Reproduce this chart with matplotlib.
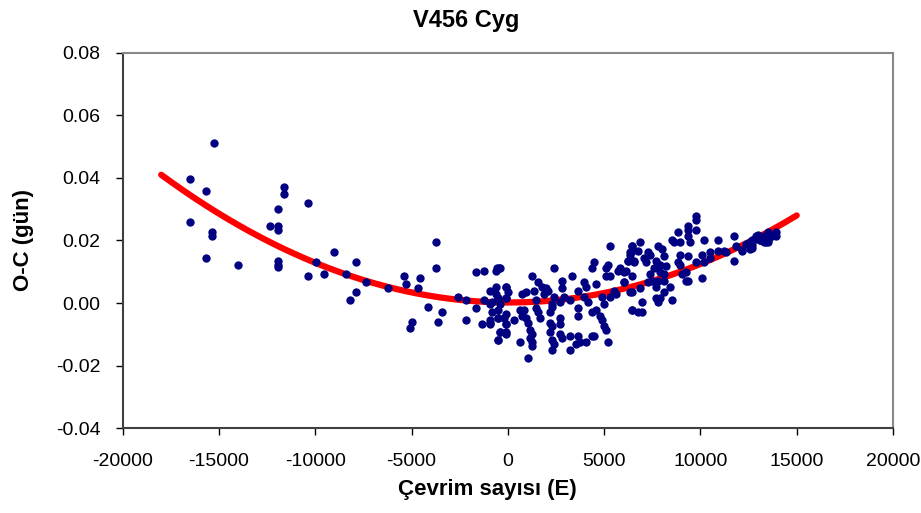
import numpy as np
import matplotlib
matplotlib.use('Agg')
import matplotlib.pyplot as plt

plt.rcParams['font.family'] = ['Liberation Sans', 'DejaVu Sans']
plt.rcParams['axes.unicode_minus'] = False

# observed O-C minima (cycle, days)
cycles = [
    -15260, -16520, -15670, -16520, -15360, -15360, -15670, -14030, -11640, -11640,
    -11940, -10380, -12350, -11940, -11940, -11940, -11940, -11940, -10380, -9960,
    -9540, -9030,
    -7890, -8410, -7370, -7890, -8200, -6230, -5400, -5300, -4570, -4680,
    -3750, -3750, -4160, -3440, -4990, -5090, -3640, -2600, -2190, -1660,
    -2190, -1660, -1240, -620, -410, -1350, -930, -930, -930, -1240,
    -620, -510, -830, -410, -510, -510, -410, -510, -100, -100,
    -100, -100, -100,
    5300, 6440, 6340, 6550, 6240, -550, -450, 2390, 1260, 3330,
    4470, 4370, 5090, 5200, 5090, 5300, 5720, 6130, 6030, 6440, 2810,
    1560, 1770, 1980, 2080, 1870, 1360, 940, 730, 1460,
    -620, -100, 5, -510, -100,
    2810, 2910, 2390, 2290, 2700,
    3640, 3950, 4060, 3950, 4160, 4570, 4890, 5300, 4990, 5510, 5610, 6440,
    3220,
    3640, 3640, 4570, 4370, 4780, 4890, 4990, 5090, 4370, 5200,
    6440, 6750,
    -930, -830, -510, -930, -410, -510, -100, -100, -200, 320,
    630, 840, 730, 940, 1040, 1150, 1260, 1150, 1260, 1260, 1040, 630,
    1560, 1460, 1670,
    2290, 2190, 2190, 2290, 2190, 2290, 2390, 2290, 2700, 2810,
    2700, 2700, 3220, 3640, 3220, 3540, 3740, 4060, 4470,
    9770, 9770, 9350, 9350, 8830, 9770, 9350, 9450, 8520, 8620,
    8930, 10180, 10910, 11740,
    6860, 6440, 6440, 6750, 6340, 6240, 6550, 5820, 6030, 6030,
    6340, 6860, 6440, 6960, 6960,
    7270, 7380, 7070, 7170, 7690, 7790, 8000, 8100, 7900, 8210,
    7590, 7900, 8100, 7380, 7480, 7790, 8100, 7270, 7690, 8410,
    8100, 7690, 7790, 7900, 8520,
    8930, 9350, 8830, 8930, 9250, 9040, 9250, 9350, 10080, 10080,
    9770, 10180, 10490, 10490, 10910, 11220, 11320, 11740, 11850, 12160,
    12570, 12670, 12980, 12880, 13290, 13610, 13920, 13820, 13400, 13090,
    13500, 12670,
    12880, 13500, 13710, 12570, 12160, 12360, 12670, 13090, 13290, 13500, 13920,
]
oc = [
    0.0513, 0.0398, 0.0359, 0.0258, 0.0226, 0.0214, 0.0144, 0.0123, 0.0372, 0.0347,
    0.0302, 0.0321, 0.0245, 0.0245, 0.0232, 0.0136, 0.0123, 0.0115, 0.0085, 0.0130,
    0.0092, 0.0162,
    0.0130, 0.0092, 0.0066, 0.0034, 0.0009, 0.0047, 0.0085, 0.0060, 0.0079, 0.0047,
    0.0194, 0.0111, -0.0011, -0.0030, -0.0060, -0.0081, -0.0060, 0.0021, 0.0009, -0.0017,
    -0.0055, 0.0098, 0.0104, 0.0104, 0.0111, -0.0068, -0.0055, -0.0068, 0.0040, 0.0009,
    0.0028, 0.0015, 0.0002, -0.0004, -0.0023, -0.0049, -0.0093, -0.0119, -0.0100, -0.0068,
    -0.0036, 0.0053, 0.0015,
    0.0181, 0.0181, 0.0162, 0.0136, 0.0136, 0.0111, 0.0111, 0.0111, 0.0085, 0.0085,
    0.0130, 0.0111, 0.0111, 0.0123, 0.0085, 0.0085, 0.0104, 0.0104, 0.0066, 0.0085, 0.0072,
    0.0066, 0.0053, 0.0047, 0.0040, 0.0028, 0.0040, 0.0034, 0.0028, 0.0009,
    0.0053, 0.0053, 0.0034, 0.0015, 0.0015,
    0.0047, 0.0021, 0.0021, -0.0004, 0.0002,
    0.0040, 0.0066, 0.0053, 0.0021, 0.0002, 0.0060, 0.0021, 0.0021, -0.0004, 0.0040, 0.0028, 0.0034,
    0.0009,
    -0.0017, -0.0042, -0.0023, -0.0030, -0.0042, -0.0055, -0.0074, -0.0087, -0.0106, -0.0125,
    -0.0023, -0.0030,
    -0.0004, -0.0030, -0.0049, -0.0062, -0.0093, -0.0119, -0.0093, -0.0068, -0.0049, -0.0055,
    -0.0023, -0.0023, -0.0042, -0.0049, -0.0062, -0.0087, -0.0100, -0.0112, -0.0125, -0.0138, -0.0176, -0.0125,
    -0.0030, -0.0017, -0.0049,
    -0.0011, -0.0030, -0.0062, -0.0074, -0.0093, -0.0119, -0.0132, -0.0151, -0.0100, -0.0112,
    -0.0068, -0.0049, -0.0106, -0.0106, -0.0151, -0.0132, -0.0125, -0.0125, -0.0106,
    0.0277, 0.0264, 0.0245, 0.0232, 0.0226, 0.0232, 0.0213, 0.0194, 0.0200, 0.0194,
    0.0194, 0.0200, 0.0200, 0.0213,
    0.0194, 0.0181, 0.0168, 0.0168, 0.0155, 0.0136, 0.0130, 0.0111, 0.0098, 0.0066,
    0.0034, 0.0047, -0.0023, -0.0030, 0.0002,
    0.0162, 0.0155, 0.0143, 0.0130, 0.0136, 0.0181, 0.0174, 0.0149, 0.0123, 0.0117,
    0.0111, 0.0098, 0.0092, 0.0092, 0.0072, 0.0072, 0.0072, 0.0066, 0.0053, 0.0053,
    0.0034, 0.0015, 0.0002, 0.0015, 0.0009,
    0.0155, 0.0149, 0.0130, 0.0123, 0.0098, 0.0092, 0.0072, 0.0072, 0.0079, 0.0155,
    0.0130, 0.0130, 0.0162, 0.0143, 0.0168, 0.0168, 0.0162, 0.0136, 0.0181, 0.0168,
    0.0174, 0.0187, 0.0219, 0.0206, 0.0213, 0.0213, 0.0226, 0.0219, 0.0194, 0.0200,
    0.0194, 0.0200,
    0.0213, 0.0226, 0.0213, 0.0194, 0.0169, 0.0188, 0.0175, 0.0200, 0.0194, 0.0200, 0.0213,
]

# quadratic ephemeris fit (a E^2 + b E + c) and its cycle range
fit_coef = [1.2485e-10, -1.94e-8, 0.0002]
fit_range = [-18000, 15000]

fig = plt.figure(figsize=(9.21, 5.13), dpi=100)
ax = fig.add_axes([0.1332, 0.1651, 0.8364, 0.7322])

E = np.linspace(fit_range[0], fit_range[1], 400)
ax.plot(E, np.polyval(fit_coef, E), color='#ff0000', lw=4.5, solid_capstyle='round', zorder=2)
ax.scatter(cycles, oc, s=36, color='#000080', zorder=3, linewidths=0)

ax.set_xlim(-20000, 20000)
ax.set_ylim(-0.04, 0.08)
ax.set_xticks(np.arange(-20000, 20001, 5000))
ax.set_yticks(np.arange(-0.04, 0.081, 0.02))
ax.yaxis.set_major_formatter(matplotlib.ticker.FormatStrFormatter('%.2f'))
ax.tick_params(direction='out', length=5, width=1, labelsize=14, colors='#000000')
ax.tick_params(axis='x', pad=13)
ax.tick_params(axis='y', pad=11)

for s in ['left', 'bottom']:
    ax.spines[s].set_color('#404040')
    ax.spines[s].set_linewidth(1.5)
for s in ['top', 'right']:
    ax.spines[s].set_color('#888888')
    ax.spines[s].set_linewidth(1.5)

fig.text(466 / 921, 1 - 21 / 513, 'V456 Cyg', fontsize=17, fontweight='bold', ha='center', va='center')
fig.text(487 / 921, 1 - 489 / 513, 'Çevrim sayısı (E)', fontsize=16, fontweight='bold', ha='center', va='center')
fig.text(23 / 921, 1 - 240 / 513, 'O-C (gün)', fontsize=16, fontweight='bold', ha='center', va='center', rotation=90)

fig.savefig('out.png', dpi=100)
